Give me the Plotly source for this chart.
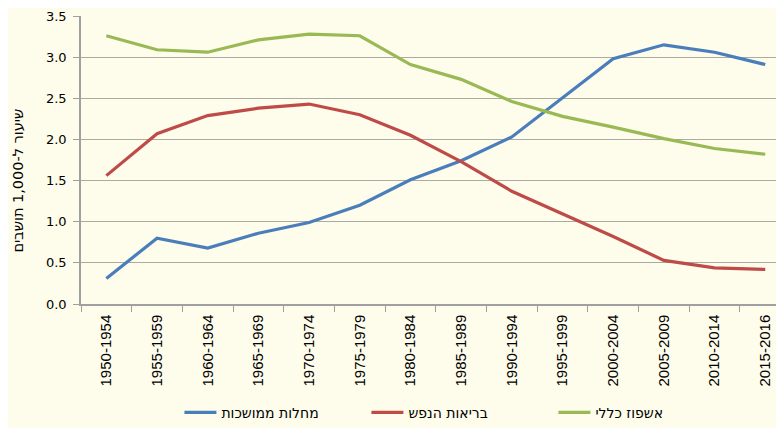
import plotly.graph_objects as go

periods = ["1950-1954", "1955-1959", "1960-1964", "1965-1969", "1970-1974", "1975-1979",
           "1980-1984", "1985-1989", "1990-1994", "1995-1999", "2000-2004", "2005-2009",
           "2010-2014", "2015-2016"]
chronic = [0.31, 0.80, 0.68, 0.86, 0.99, 1.20, 1.51, 1.74, 2.03, 2.50, 2.98, 3.15, 3.06, 2.91]
mental = [1.56, 2.07, 2.29, 2.38, 2.43, 2.30, 2.05, 1.73, 1.37, 1.10, 0.82, 0.53, 0.44, 0.42]
general = [3.26, 3.09, 3.06, 3.21, 3.28, 3.26, 2.91, 2.73, 2.46, 2.28, 2.15, 2.01, 1.89, 1.82]

names = ["מחלות ממושכות", "בריאות הנפש", "אשפוז כללי"]
colors = ["#4A7EBB", "#BE4B48", "#98B954"]
y_title = "שיעור ל-1,000 תושבים"

fig = go.Figure()
for name, vals, col in zip(names, [chronic, mental, general], colors):
    fig.add_trace(go.Scatter(x=periods, y=vals, name=name, mode="lines",
                             line=dict(color=col, width=3.2)))

bg = "#FEFCEB"
fig.update_layout(
    width=776, height=420,
    paper_bgcolor=bg, plot_bgcolor=bg,
    margin=dict(l=73, r=0, t=8, b=124, autoexpand=False),
    font=dict(family="DejaVu Sans", size=12, color="#000000"),
    showlegend=True,
    legend=dict(orientation="h", x=0.14, xanchor="left", y=-0.378, yanchor="middle",
                font=dict(size=14), itemwidth=32, tracegroupgap=0,
                entrywidth=140, entrywidthmode="pixels",
                bgcolor="rgba(0,0,0,0)"),
    xaxis=dict(type="category", range=[-0.5, 13.37], tickson="boundaries",
               ticks="outside", ticklen=6, tickcolor="#A0A0A0",
               showline=True, linecolor="#A0A0A0", linewidth=1.5,
               showgrid=False, tickangle=-90, ticklabelstandoff=3,
               tickfont=dict(family="Liberation Sans", size=15)),
    yaxis=dict(range=[0, 3.5], dtick=0.5, tickformat=".1f",
               showgrid=True, gridcolor="#ABABA3", gridwidth=1.3,
               showline=True, linecolor="#A0A0A0", linewidth=1.5,
               ticks="outside", ticklen=6, tickcolor="#A0A0A0",
               zeroline=False, ticklabelstandoff=4,
               tickfont=dict(size=13)),
    annotations=[dict(text=y_title, textangle=-90, xref="paper", yref="paper",
                      x=-0.089, y=0.43, xanchor="center", yanchor="middle",
                      showarrow=False, font=dict(size=14.5))],
)

fig.write_html("out.html")
